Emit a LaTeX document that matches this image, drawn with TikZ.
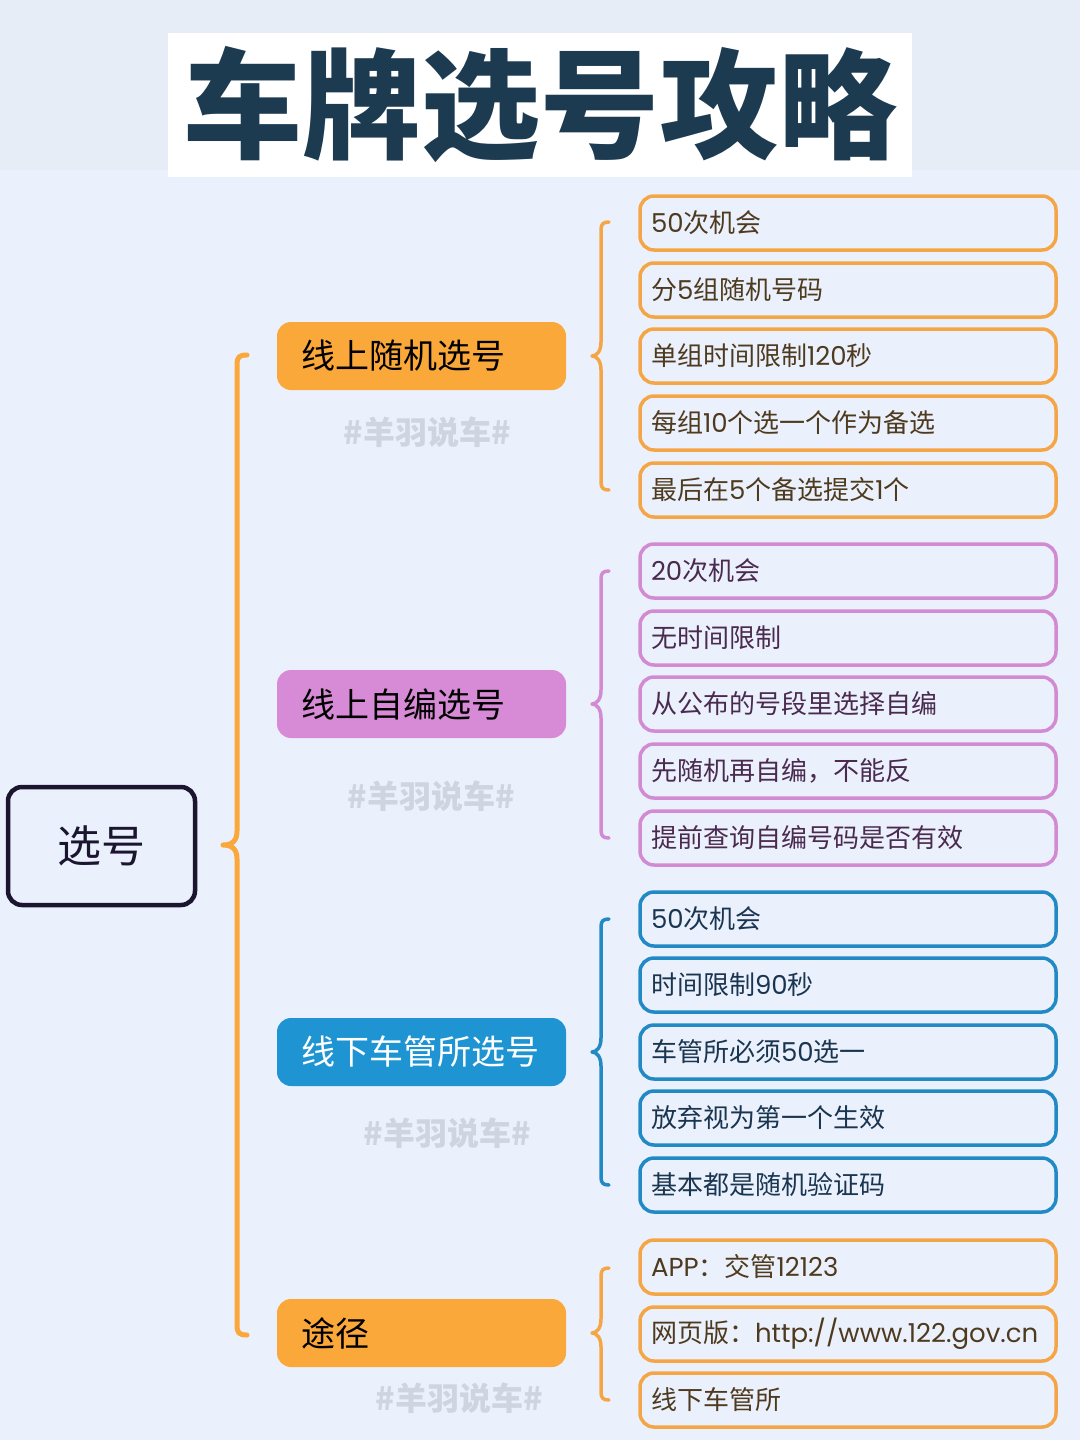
\documentclass[tikz,border=0pt]{standalone}
\usepackage{fontspec}
\newfontfamily\cjk{Noto Sans CJK SC}
\newfontfamily\popf{Poppins}
\newcommand\lat[1]{{\popf #1}}
\definecolor{bgtop}{HTML}{E7EDF7}
\definecolor{bgmain}{HTML}{EBF1FC}
\definecolor{navy}{HTML}{1C3A50}
\definecolor{dark}{HTML}{1B1530}
\definecolor{cor}{HTML}{FBA83B}
\definecolor{cpu}{HTML}{D78AD6}
\definecolor{cbl}{HTML}{1E95D2}
\definecolor{bor}{HTML}{F4A646}
\definecolor{bpu}{HTML}{D28BD3}
\definecolor{bbl}{HTML}{2189C4}
\definecolor{tor}{HTML}{4E3A1E}
\definecolor{tpu}{HTML}{4A2A4E}
\definecolor{tbl}{HTML}{1A3550}
\definecolor{wm}{HTML}{CDD5E0}
\tikzset{
  leaf/.style={draw=#1, rectangle, rounded corners=14pt, line width=3.5pt,
    minimum width=416pt, minimum height=54pt, text width=394pt, inner xsep=11pt,
    align=left, font=\cjk\fontsize{26pt}{30pt}\selectfont},
  mid/.style={fill=#1, rectangle, rounded corners=14pt, minimum width=289pt,
    minimum height=68pt, text width=241pt, inner xsep=24pt, align=left,
    font=\cjk\fontsize{34pt}{40pt}\selectfont},
  wmark/.style={text=wm, font=\cjk\bfseries\fontsize{32pt}{36pt}\selectfont},
  brc/.style={draw=#1, line width=3.5pt, line cap=round, line join=round},
  bigbrc/.style={draw=#1, line width=5pt, line cap=round, line join=round}
}
% #1 style, #2 x, #3 top, #4 mid, #5 bottom, #6 hook, #7 tip depth
\newcommand\mybrace[7]{%
  \draw[#1] ({#2+#6},#3) .. controls ({#2+2},#3) and (#2,{#3+2}) .. (#2,{#3+#6})
    -- (#2,{#4-14}) .. controls (#2,{#4-5}) and ({#2-4},#4) .. ({#2-#7},#4)
    .. controls ({#2-4},#4) and (#2,{#4+5}) .. (#2,{#4+14})
    -- (#2,{#5-#6}) .. controls (#2,{#5-2}) and ({#2+2},#5) .. ({#2+#6},#5);}
\begin{document}
\begin{tikzpicture}[x=1pt,y=-1pt]
\fill[bgmain] (0,0) rectangle (1080,1440);
\fill[bgtop] (0,0) rectangle (1080,170);
\useasboundingbox (0,0) rectangle (1080,1440);
% title
\node[fill=white, minimum width=744pt, minimum height=144pt, inner sep=0pt] (tbox) at (540,105) {};
\node[text=navy, font=\cjk\bfseries\fontsize{119pt}{130pt}\selectfont, inner sep=0pt] (title) at (540,105) {车牌选号攻略};
% root
\node[draw=dark, line width=4.5pt, rounded corners=14pt, minimum width=187pt, minimum height=118pt,
  font=\cjk\fontsize{44pt}{50pt}\selectfont, text=dark] (root) at (101.5,846) {选号};
% level 1
\node[mid=cor, text=black] (m1) at (421.5,356) {线上随机选号};
\node[mid=cpu, text=black] (m2) at (421.5,704) {线上自编选号};
\node[mid=cbl, text=white] (m3) at (421.5,1052) {线下车管所选号};
\node[mid=cor, text=black] (m4) at (421.5,1333) {途径};
% watermarks
\node[wmark] (w1) at (427,432) {\#羊羽说车\#};
\node[wmark] (w2) at (431,796) {\#羊羽说车\#};
\node[wmark] (w3) at (447,1133) {\#羊羽说车\#};
\node[wmark] (w4) at (459,1398) {\#羊羽说车\#};
% braces
\mybrace{bigbrc=cor}{237}{355}{845}{1335}{10}{14}
\mybrace{brc=bor}{601}{222}{356}{490}{8}{9}
\mybrace{brc=bpu}{601}{571}{704}{838}{8}{9}
\mybrace{brc=bbl}{601}{919}{1052}{1185}{8}{9}
\mybrace{brc=bor}{601}{1268}{1333}{1400}{8}{9}
% group 1
\node[leaf=bor, text=tor] (a1) at (848,223) {\lat{50}次机会};
\node[leaf=bor, text=tor] (a2) at (848,290) {分\lat{5}组随机号码};
\node[leaf=bor, text=tor] (a3) at (848,356) {单组时间限制\lat{120}秒};
\node[leaf=bor, text=tor] (a4) at (848,423) {每组\lat{10}个选一个作为备选};
\node[leaf=bor, text=tor] (a5) at (848,490) {最后在\lat{5}个备选提交\lat{1}个};
% group 2
\node[leaf=bpu, text=tpu] (b1) at (848,571) {\lat{20}次机会};
\node[leaf=bpu, text=tpu] (b2) at (848,638) {无时间限制};
\node[leaf=bpu, text=tpu] (b3) at (848,704) {从公布的号段里选择自编};
\node[leaf=bpu, text=tpu] (b4) at (848,771) {先随机再自编，不能反};
\node[leaf=bpu, text=tpu] (b5) at (848,838) {提前查询自编号码是否有效};
% group 3
\node[leaf=bbl, text=tbl] (c1) at (848,919) {\lat{50}次机会};
\node[leaf=bbl, text=tbl] (c2) at (848,985) {时间限制\lat{90}秒};
\node[leaf=bbl, text=tbl] (c3) at (848,1052) {车管所必须\lat{50}选一};
\node[leaf=bbl, text=tbl] (c4) at (848,1118) {放弃视为第一个生效};
\node[leaf=bbl, text=tbl] (c5) at (848,1185) {基本都是随机验证码};
% group 4
\node[leaf=bor, text=tor] (d1) at (848,1267) {\lat{APP}：交管\lat{12123}};
\node[leaf=bor, text=tor] (d2) at (848,1334) {网页版：\lat{http://www.122.gov.cn}};
\node[leaf=bor, text=tor] (d3) at (848,1400) {线下车管所};
\end{tikzpicture}
\end{document}
